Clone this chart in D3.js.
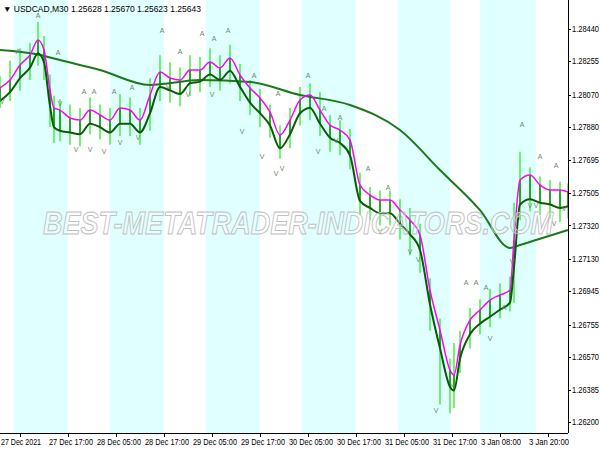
<!DOCTYPE html><html><head><meta charset="utf-8">
<script src="https://cdn.jsdelivr.net/npm/d3@7"></script>
<style>body{margin:0;background:#fff}text{font-family:"Liberation Sans",Arial,sans-serif}</style></head><body>
<svg id="c" width="600" height="450"></svg>
<script>
const barIdx=[0,5,10,15,19,22,25,27,30,35,40,45,50,55,60,65,70,75,80,85,90,95,100,105,110,115,120,125,130,135,140,145,150,155,160,165,170,175,180,185,190,195,200,205,210,215,220,225,227,230,235,240,245,250,255,257,260,265,270,275,280,284];
const magenta=[1.28104,1.28149,1.28235,1.28292,1.28377,1.28320,1.28092,1.27990,1.27978,1.27933,1.27921,1.27978,1.27950,1.27921,1.27990,1.27978,1.27921,1.28064,1.28195,1.28161,1.28149,1.28206,1.28206,1.28252,1.28218,1.28275,1.28178,1.28104,1.28047,1.27967,1.27836,1.27921,1.28035,1.28064,1.27978,1.27893,1.27864,1.27807,1.27551,1.27494,1.27465,1.27465,1.27408,1.27351,1.27266,1.26952,1.26724,1.26496,1.26468,1.26639,1.26781,1.26838,1.26895,1.26924,1.26952,1.27237,1.27579,1.27608,1.27551,1.27522,1.27522,1.27511];
const fast=[1.28030,1.28080,1.28160,1.28220,1.28300,1.28250,1.28000,1.27880,1.27860,1.27850,1.27840,1.27900,1.27880,1.27850,1.27900,1.27900,1.27850,1.27960,1.28110,1.28090,1.28070,1.28130,1.28140,1.28180,1.28150,1.28200,1.28110,1.28020,1.27960,1.27890,1.27760,1.27840,1.27960,1.27990,1.27900,1.27820,1.27790,1.27720,1.27460,1.27420,1.27390,1.27390,1.27330,1.27270,1.27180,1.26870,1.26620,1.26400,1.26380,1.26560,1.26700,1.26760,1.26800,1.26840,1.26880,1.27080,1.27440,1.27470,1.27450,1.27440,1.27420,1.27430];
const highs=[1.28170,1.28260,1.28330,1.28360,1.28480,1.28400,1.28180,1.28060,1.28040,1.28010,1.27990,1.28050,1.28010,1.27990,1.28070,1.28050,1.27990,1.28160,1.28290,1.28250,1.28220,1.28290,1.28280,1.28330,1.28290,1.28350,1.28240,1.28150,1.28100,1.28010,1.27890,1.27990,1.28110,1.28130,1.28080,1.27950,1.27920,1.27870,1.27620,1.27540,1.27520,1.27520,1.27470,1.27420,1.27330,1.27020,1.26790,1.26560,1.26650,1.26720,1.26850,1.26900,1.26960,1.26990,1.27030,1.27450,1.27740,1.27650,1.27600,1.27580,1.27570,1.27560];
const lows=[1.27990,1.28030,1.28090,1.28150,1.28230,1.28150,1.27880,1.27790,1.27800,1.27780,1.27770,1.27840,1.27810,1.27780,1.27830,1.27830,1.27780,1.27860,1.28030,1.28020,1.28000,1.28060,1.28080,1.28110,1.28090,1.28130,1.28030,1.27950,1.27880,1.27820,1.27700,1.27760,1.27890,1.27920,1.27830,1.27740,1.27720,1.27640,1.27380,1.27350,1.27320,1.27320,1.27240,1.27150,1.27050,1.26720,1.26300,1.26250,1.26280,1.26480,1.26620,1.26700,1.26740,1.26790,1.26830,1.26880,1.27350,1.27400,1.27380,1.27360,1.27340,1.27360];
const slowIdx=[0,20,30,50,75,100,125,150,175,200,220,240,255,260,284];
const slow=[1.28320,1.28292,1.28263,1.28206,1.28121,1.28149,1.28138,1.28064,1.28007,1.27864,1.27636,1.27408,1.27192,1.27209,1.27294];
const upIdx=[9,19,29,42,47,57,66,81,90,101,107,114,127,139,154,162,170,184,194,233,238,243,252,261,270,278];
const upVal=[1.28300,1.28500,1.28290,1.28070,1.28070,1.28070,1.28090,1.28420,1.28300,1.28400,1.28370,1.28420,1.28160,1.28060,1.28160,1.27970,1.27920,1.27630,1.27520,1.26980,1.26980,1.26950,1.26840,1.27880,1.27700,1.27650];
const dnIdx=[1,30,38,45,52,60,69,84,94,106,121,131,138,141,159,168,190,205,209,218,226,245,256,265,268,277,282];
const dnVal=[1.28010,1.28000,1.27740,1.27740,1.27730,1.27780,1.27810,1.28100,1.28050,1.28050,1.27840,1.27700,1.27600,1.27630,1.27730,1.27790,1.27270,1.27160,1.27110,1.26250,1.26400,1.26660,1.27100,1.27420,1.27420,1.27320,1.27400];
const bandStart=[7,55,103,151,199,240];
const bandEnd=[34,82,130,178,225,268];
const xTickIdx=[10,34,58,82,106,130,154,178,202,226,250,274];
const xTickLabels=["27 Dec 2021","27 Dec 17:00","28 Dec 05:00","28 Dec 17:00","29 Dec 05:00","29 Dec 17:00","30 Dec 05:00","30 Dec 17:00","31 Dec 05:00","31 Dec 17:00","3 Jan 08:00","3 Jan 20:00"];
const yTicks=[1.28440,1.28255,1.28065,1.27880,1.27695,1.27505,1.27320,1.27130,1.26945,1.26755,1.26570,1.26385,1.26200];
const yTickLabels=["1.28440","1.28255","1.28070","1.27880","1.27695","1.27505","1.27320","1.27130","1.26945","1.26755","1.26570","1.26385","1.26200"];

const svg=d3.select("#c");
const W=568,H=433;
const x=d3.scaleLinear().domain([0,284]).range([0,W]);
const y=d3.scaleLinear().domain([1.262,1.2844]).range([422,29]);
const g=svg.append("g");
g.selectAll(".band").data(bandStart).join("rect").attr("x",(d)=>x(d)).attr("y",0)
 .attr("width",(d,i)=>x(bandEnd[i])-x(d)).attr("height",H).attr("fill","#e0ffff");
g.selectAll(".wick").data(barIdx).join("line").attr("x1",d=>x(d)).attr("x2",d=>x(d))
 .attr("y1",(d,i)=>y(highs[i])).attr("y2",(d,i)=>y(lows[i])).attr("stroke","#44ee44").attr("stroke-width",1.5);
g.selectAll(".body").data(barIdx).join("rect").attr("x",d=>x(d)-1).attr("width",2)
 .attr("y",(d,i)=>y(Math.max(magenta[i],fast[i]))).attr("height",(d,i)=>Math.abs(y(magenta[i])-y(fast[i])))
 .attr("fill","#22aa22");
const line=(idx,vals)=>d3.line().curve(d3.curveMonotoneX).x((d,i)=>x(idx[i])).y(d=>y(d))(vals);
g.append("path").attr("d",line(slowIdx,slow)).attr("fill","none").attr("stroke","#1a7a1a").attr("stroke-width",2);
g.append("path").attr("d",line(barIdx,magenta)).attr("fill","none").attr("stroke","#ff00ff").attr("stroke-width",1.5);
g.append("path").attr("d",line(barIdx,fast)).attr("fill","none").attr("stroke","#0a5a0a").attr("stroke-width",2);
svg.append("text").attr("x",298).attr("y",234).attr("text-anchor","middle").attr("font-size",32)
 .attr("font-style","italic").attr("font-weight","bold").attr("fill","rgba(255,255,255,0.25)").attr("stroke","#c0c0c0").attr("stroke-width",1)
 .attr("textLength",510).attr("lengthAdjust","spacingAndGlyphs").text("BEST-METATRADER-INDICATORS.COM");
g.selectAll(".up").data(upIdx).join("text").attr("x",d=>x(d)).attr("y",(d,i)=>y(upVal[i])).attr("text-anchor","middle")
 .attr("font-size",7).attr("fill","#6a8a6a").text("A");
g.selectAll(".dn").data(dnIdx).join("text").attr("x",d=>x(d)).attr("y",(d,i)=>y(dnVal[i])).attr("text-anchor","middle")
 .attr("font-size",7).attr("fill","#6a8a6a").text("V");
svg.append("line").attr("x1",W+0.5).attr("x2",W+0.5).attr("y1",0).attr("y2",H).attr("stroke","#000");
svg.append("line").attr("x1",0).attr("x2",W).attr("y1",H+0.5).attr("y2",H+0.5).attr("stroke","#000");
yTicks.forEach((v,i)=>{svg.append("line").attr("x1",W).attr("x2",W+3).attr("y1",Math.round(y(v))+0.5).attr("y2",Math.round(y(v))+0.5).attr("stroke","#000");
 svg.append("text").attr("x",W+4).attr("y",y(v)+3).attr("font-size",8.5).attr("textLength",27).attr("lengthAdjust","spacingAndGlyphs").text(yTickLabels[i]);});
xTickIdx.forEach((v,i)=>{svg.append("line").attr("x1",Math.round(x(v))+0.5).attr("x2",Math.round(x(v))+0.5).attr("y1",H).attr("y2",H+4).attr("stroke","#000");
 svg.append("text").attr("x",x(v)-19).attr("y",H+12).attr("font-size",8.5).attr("textLength",xTickLabels[i].length>11?44:40).attr("lengthAdjust","spacingAndGlyphs").text(xTickLabels[i]);});
svg.append("text").attr("x",3).attr("y",12).attr("font-size",8.5).text("\u25bc USDCAD,M30  1.25628 1.25670 1.25623 1.25643");
</script></body></html>
